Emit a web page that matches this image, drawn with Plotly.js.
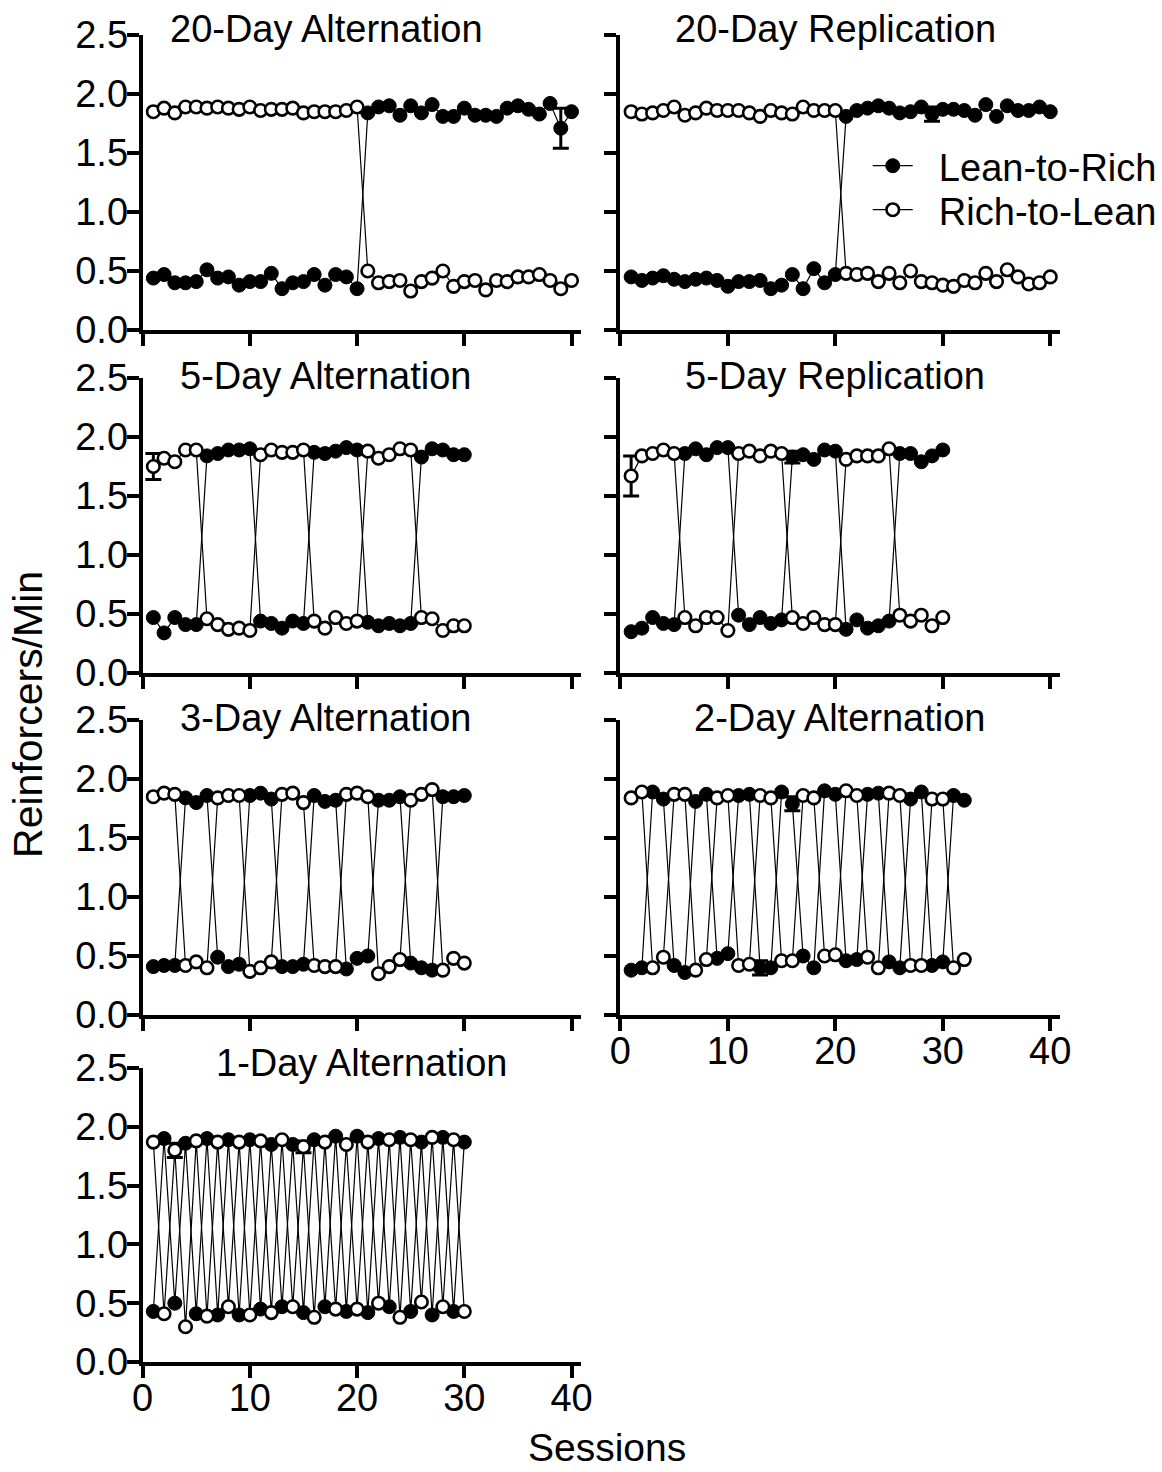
<!DOCTYPE html>
<html>
<head>
<meta charset="utf-8">
<script src="https://cdn.plot.ly/plotly-3.0.1.min.js"></script>
<style>html,body{margin:0;padding:0;background:#fff;}#chart{width:1162px;height:1472px;}</style>
</head>
<body>
<div id="chart"></div>
<script>
// ---------- data ----------
const sessions40 = [1,2,3,4,5,6,7,8,9,10,11,12,13,14,15,16,17,18,19,20,21,22,23,24,25,26,27,28,29,30,31,32,33,34,35,36,37,38,39,40];
const sessions32 = [1,2,3,4,5,6,7,8,9,10,11,12,13,14,15,16,17,18,19,20,21,22,23,24,25,26,27,28,29,30,31,32];
const sessions30 = [1,2,3,4,5,6,7,8,9,10,11,12,13,14,15,16,17,18,19,20,21,22,23,24,25,26,27,28,29,30];

const seriesNames = ['Lean-to-Rich', 'Rich-to-Lean'];
const panelTitles = ['20-Day Alternation', '20-Day Replication', '5-Day Alternation', '5-Day Replication', '3-Day Alternation', '2-Day Alternation', '1-Day Alternation'];
const yTickVals = [0, 0.5, 1.0, 1.5, 2.0, 2.5];
const yTickText = ['0.0', '0.5', '1.0', '1.5', '2.0', '2.5'];
const xTickVals = [0, 10, 20, 30, 40];
const xTitle = 'Sessions';
const yTitle = 'Reinforcers/Min';

// 20-Day Alternation
const alt20Lean = [0.44,0.47,0.40,0.40,0.41,0.51,0.44,0.45,0.38,0.41,0.41,0.48,0.35,0.40,0.41,0.47,0.38,0.47,0.45,0.35,
                   1.84,1.89,1.90,1.82,1.90,1.84,1.91,1.81,1.81,1.88,1.82,1.82,1.81,1.88,1.90,1.87,1.83,1.92,1.71,1.85];
const alt20Rich = [1.85,1.88,1.84,1.89,1.89,1.88,1.89,1.88,1.87,1.89,1.86,1.87,1.87,1.88,1.84,1.85,1.85,1.85,1.86,1.89,
                   0.50,0.40,0.41,0.42,0.33,0.41,0.44,0.50,0.37,0.41,0.42,0.34,0.42,0.41,0.45,0.45,0.47,0.42,0.35,0.42];
const alt20LeanErr = [[39, 0.17]];
const alt20RichErr = [];

// 20-Day Replication
const rep20Lean = [0.45,0.42,0.44,0.46,0.43,0.41,0.43,0.44,0.42,0.37,0.41,0.41,0.42,0.35,0.38,0.47,0.35,0.52,0.40,0.47,
                   1.81,1.86,1.88,1.90,1.88,1.84,1.85,1.89,1.83,1.87,1.87,1.86,1.82,1.91,1.81,1.90,1.86,1.86,1.89,1.85];
const rep20Rich = [1.85,1.83,1.84,1.86,1.89,1.82,1.84,1.88,1.86,1.86,1.86,1.84,1.81,1.86,1.84,1.83,1.89,1.86,1.86,1.86,
                   0.48,0.47,0.48,0.41,0.48,0.40,0.50,0.41,0.40,0.38,0.37,0.42,0.40,0.48,0.41,0.51,0.45,0.39,0.40,0.45];
const rep20LeanErr = [[29, 0.06]];
const rep20RichErr = [];

// 5-Day Alternation
const alt5Lean = [0.47,0.34,0.47,0.41,0.41, 1.84,1.86,1.89,1.89,1.90, 0.44,0.42,0.38,0.44,0.42,
                  1.87,1.86,1.88,1.91,1.89, 0.43,0.40,0.42,0.40,0.42, 1.83,1.90,1.89,1.85,1.85];
const alt5Rich = [1.75,1.82,1.79,1.89,1.89, 0.46,0.41,0.37,0.38,0.36, 1.85,1.89,1.87,1.87,1.89,
                  0.44,0.38,0.47,0.42,0.44, 1.88,1.82,1.85,1.90,1.89, 0.47,0.46,0.36,0.40,0.40];
const alt5LeanErr = [];
const alt5RichErr = [[1, 0.11]];

// 5-Day Replication
const rep5Lean = [0.35,0.38,0.47,0.42,0.41, 1.86,1.90,1.85,1.91,1.91, 0.49,0.41,0.47,0.42,0.45,
                  1.83,1.85,1.81,1.89,1.88, 0.37,0.45,0.38,0.40,0.44, 1.86,1.86,1.79,1.84,1.89];
const rep5Rich = [1.67,1.84,1.86,1.89,1.86, 0.47,0.40,0.47,0.47,0.36, 1.86,1.88,1.84,1.88,1.86,
                  0.47,0.42,0.47,0.41,0.41, 1.81,1.84,1.84,1.84,1.90, 0.49,0.44,0.49,0.40,0.47];
const rep5LeanErr = [[16, 0.05]];
const rep5RichErr = [[1, 0.17]];

// 3-Day Alternation
const alt3Lean = [0.41,0.42,0.42, 1.84,1.80,1.86, 0.49,0.41,0.43, 1.86,1.88,1.83, 0.41,0.41,0.43,
                  1.86,1.81,1.82, 0.39,0.48,0.50, 1.82,1.82,1.85, 0.44,0.40,0.38, 1.85,1.85,1.86];
const alt3Rich = [1.85,1.88,1.87, 0.42,0.45,0.40, 1.84,1.86,1.86, 0.37,0.40,0.45, 1.87,1.88,1.80,
                  0.42,0.41,0.41, 1.87,1.88,1.85, 0.35,0.41,0.47, 1.82,1.87,1.91, 0.38,0.48,0.44];
const alt3LeanErr = [];
const alt3RichErr = [];

// 2-Day Alternation
const alt2Lean = [0.38,0.40, 1.89,1.83, 0.42,0.36, 1.81,1.87, 0.48,0.52, 1.86,1.87, 0.40,0.40, 1.89,1.79,
                  0.50,0.40, 1.90,1.87, 0.46,0.47, 1.87,1.88, 0.45,0.40, 1.83,1.89, 0.42,0.45, 1.86,1.82];
const alt2Rich = [1.84,1.89, 0.40,0.49, 1.87,1.87, 0.38,0.47, 1.84,1.86, 0.42,0.43, 1.86,1.84, 0.46,0.46,
                  1.86,1.84, 0.50,0.51, 1.90,1.86, 0.49,0.40, 1.88,1.86, 0.42,0.42, 1.83,1.83, 0.40,0.47];
const alt2LeanErr = [[13, 0.06], [16, 0.06]];
const alt2RichErr = [];

// 1-Day Alternation
const alt1Lean = [0.43,1.90,0.50,1.86,0.41,1.90,0.40,1.89,0.40,1.89,0.45,1.85,0.47,1.85,0.42,
                  1.89,0.47,1.92,0.43,1.92,0.42,1.90,0.47,1.91,0.43,1.87,0.40,1.91,0.43,1.87];
const alt1Rich = [1.87,0.41,1.80,0.30,1.88,0.39,1.87,0.47,1.87,0.40,1.88,0.42,1.89,0.47,1.83,
                  0.38,1.87,0.45,1.85,0.45,1.87,0.50,1.89,0.38,1.89,0.51,1.91,0.47,1.89,0.43];
const alt1LeanErr = [];
const alt1RichErr = [[3, 0.06], [15, 0.05]];

// ---------- build ----------
const panels = [
  {x: sessions40, lean: alt20Lean, rich: alt20Rich, le: alt20LeanErr, re: alt20RichErr},
  {x: sessions40, lean: rep20Lean, rich: rep20Rich, le: rep20LeanErr, re: rep20RichErr},
  {x: sessions30, lean: alt5Lean,  rich: alt5Rich,  le: alt5LeanErr,  re: alt5RichErr},
  {x: sessions30, lean: rep5Lean,  rich: rep5Rich,  le: rep5LeanErr,  re: rep5RichErr},
  {x: sessions30, lean: alt3Lean,  rich: alt3Rich,  le: alt3LeanErr,  re: alt3RichErr},
  {x: sessions32, lean: alt2Lean,  rich: alt2Rich,  le: alt2LeanErr,  re: alt2RichErr},
  {x: sessions30, lean: alt1Lean,  rich: alt1Rich,  le: alt1LeanErr,  re: alt1RichErr}
];

function errArray(xs, list) {
  const arr = xs.map(() => NaN);
  list.forEach(([s, v]) => { const i = xs.indexOf(s); if (i >= 0) arr[i] = v; });
  return arr;
}

const W = 1162, H = 1472;
const FONT = 'Liberation Sans, Arial, Helvetica, sans-serif';
const colDom = [[143 / W, 583 / W], [622 / W, 1063 / W]];
const rowPx = [[35, 330], [378, 673], [720, 1015], [1068, 1362]];
const rowDom = rowPx.map(([t, b]) => [1 - b / H, 1 - t / H]);
const panelPos = [[0,0],[0,1],[1,0],[1,1],[2,0],[2,1],[3,0]]; // [row, col]
const titlePx = [[327, 29], [838, 29], [327, 376], [837, 376], [327, 718], [842, 718], [363, 1063]];

const traces = [];
const layout = {
  width: W, height: H,
  margin: {l: 0, r: 0, t: 0, b: 0},
  paper_bgcolor: '#fff', plot_bgcolor: 'rgba(0,0,0,0)',
  font: {family: FONT, color: '#000', size: 38},
  showlegend: true,
  legend: {x: 870 / W, y: 1 - 166 / H, xanchor: 'left', yanchor: 'middle', itemwidth: 40,
           font: {size: 38, family: FONT, color: '#000'}, bgcolor: 'rgba(0,0,0,0)', borderwidth: 0},
  legend2: {x: 870 / W, y: 1 - 210 / H, xanchor: 'left', yanchor: 'middle', itemwidth: 40,
           font: {size: 38, family: FONT, color: '#000'}, bgcolor: 'rgba(0,0,0,0)', borderwidth: 0},
  annotations: []
};

panels.forEach((p, k) => {
  const n = k + 1;
  const xa = 'x' + (n === 1 ? '' : n), ya = 'y' + (n === 1 ? '' : n);
  const [r, c] = panelPos[k];
  traces.push({
    type: 'scatter', mode: 'lines+markers', x: p.x, y: p.lean, xaxis: xa, yaxis: ya,
    name: '\u00a0\u00a0' + seriesNames[0], showlegend: k === 0, legend: 'legend',
    line: {color: '#000', width: 1.2},
    marker: {symbol: 'circle', size: 14, color: '#000', line: {color: '#000', width: 1}},
    error_y: {type: 'data', array: errArray(p.x, p.le), visible: true, color: '#000', thickness: 3, width: 8},
    cliponaxis: false, hoverinfo: 'skip'
  });
  traces.push({
    type: 'scatter', mode: 'lines+markers', x: p.x, y: p.rich, xaxis: xa, yaxis: ya,
    name: '\u00a0\u00a0' + seriesNames[1], showlegend: k === 0, legend: 'legend2',
    line: {color: '#000', width: 1.2},
    marker: {symbol: 'circle', size: 12.5, color: '#fff', line: {color: '#000', width: 2.6}},
    error_y: {type: 'data', array: errArray(p.x, p.re), visible: true, color: '#000', thickness: 3, width: 8},
    cliponaxis: false, hoverinfo: 'skip'
  });
  const axName = n === 1 ? '' : n;
  layout['xaxis' + axName] = {
    domain: colDom[c], anchor: ya, range: [0, 40.93], tickmode: 'array', tickvals: xTickVals,
    showticklabels: (k === 5 || k === 6), ticks: 'outside', ticklen: 12, tickwidth: 4, tickcolor: '#000',
    ticklabelstandoff: -13,
    showline: true, linewidth: 4, linecolor: '#000', showgrid: false, zeroline: false,
    tickfont: {size: 38, family: FONT, color: '#000'}, fixedrange: true
  };
  layout['yaxis' + axName] = {
    domain: rowDom[r], anchor: xa, range: [0, 2.5], tickmode: 'array', tickvals: yTickVals, ticktext: yTickText,
    showticklabels: c === 0, ticks: 'outside', ticklen: 12, tickwidth: 4, tickcolor: '#000',
    ticklabelstandoff: -9,
    showline: true, linewidth: 4, linecolor: '#000', showgrid: false, zeroline: false,
    tickfont: {size: 38, family: FONT, color: '#000'}, fixedrange: true
  };
  layout.annotations.push({
    text: panelTitles[k], xref: 'paper', yref: 'paper', x: titlePx[k][0] / W, y: 1 - titlePx[k][1] / H,
    xanchor: 'center', yanchor: 'middle', showarrow: false,
    font: {size: 38, family: FONT, color: '#000'}
  });
});

layout.annotations.push({
  text: yTitle, xref: 'paper', yref: 'paper', x: 28 / W, y: 1 - 714 / H, textangle: -90,
  xanchor: 'center', yanchor: 'middle', showarrow: false, font: {size: 41, family: FONT, color: '#000'}
});
layout.annotations.push({
  text: xTitle, xref: 'paper', yref: 'paper', x: 609 / W, y: 1 - 1447 / H,
  xanchor: 'center', yanchor: 'middle', showarrow: false, font: {size: 39, family: FONT, color: '#000'}
});

Plotly.newPlot('chart', traces, layout, {staticPlot: true, displayModeBar: false});
</script>
</body>
</html>
